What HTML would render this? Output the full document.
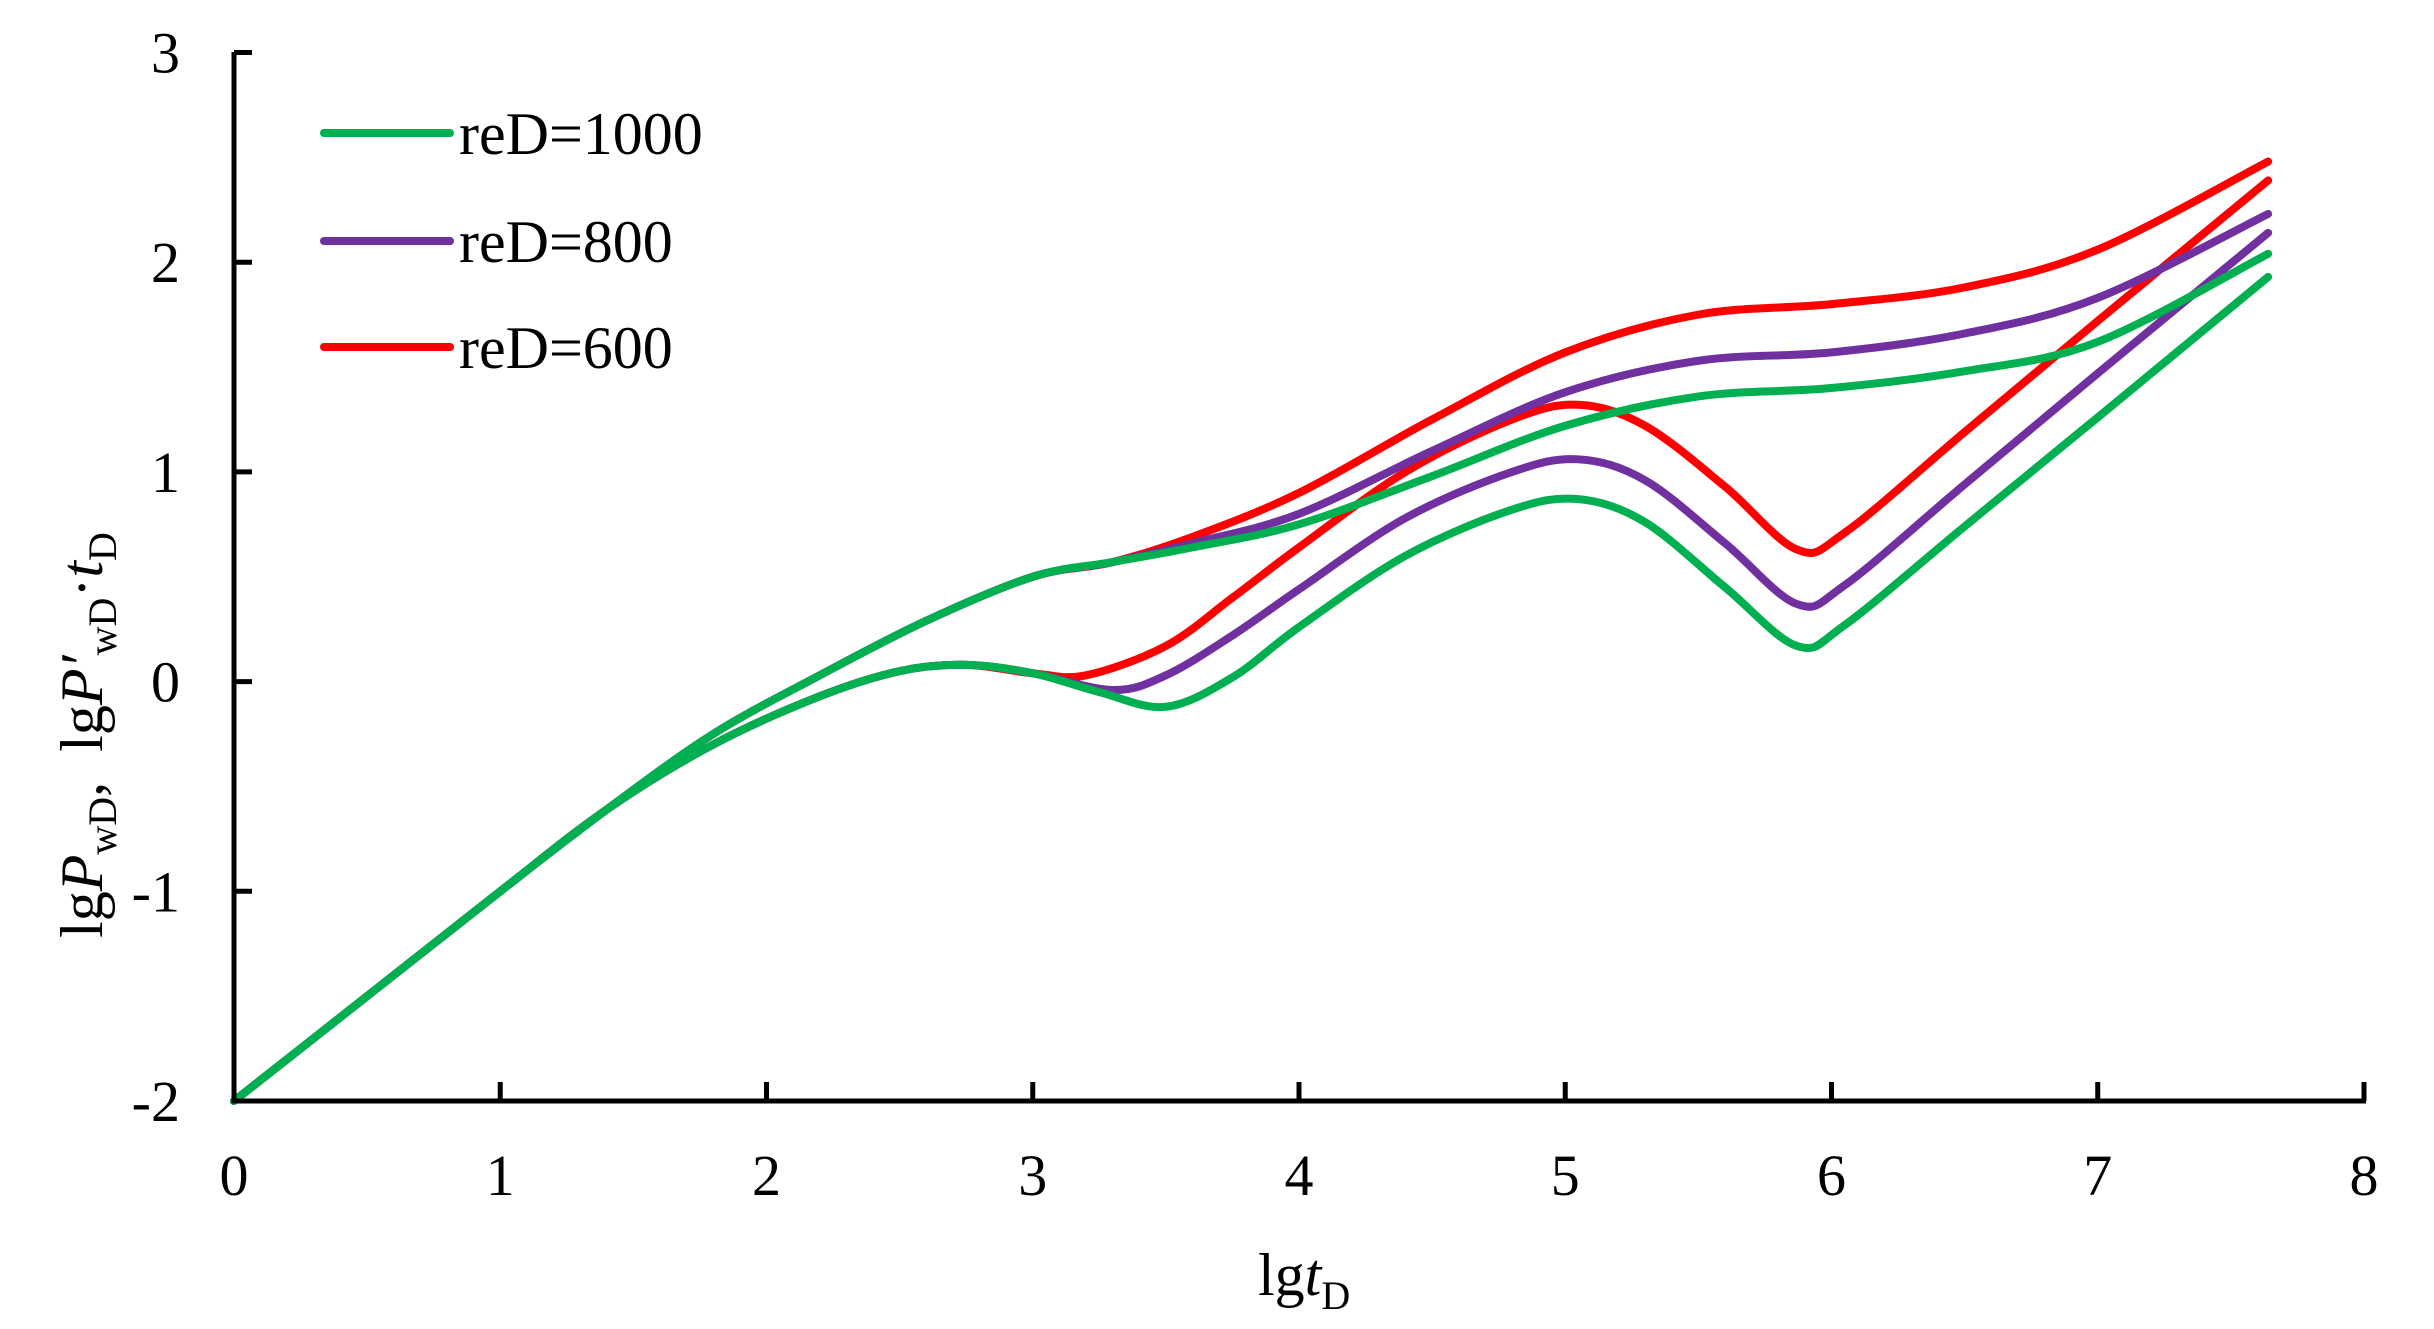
<!DOCTYPE html>
<html><head><meta charset="utf-8"><style>
html,body{margin:0;padding:0;background:#fff;}
svg{display:block;}
text{font-family:"Liberation Serif",serif;fill:#000;}
</style></head><body>
<svg id="s" width="2434" height="1329" xmlns="http://www.w3.org/2000/svg">
<g id="curves" fill="none" stroke-width="8" stroke-linecap="round" stroke-linejoin="round"></g>
<g stroke="#000" stroke-width="5" fill="none">
<path d="M234,52 V1101 H2366"/>
<path id="ticks"/>
</g>
<g font-size="58" id="labels"></g>
<g font-size="60">
<line x1="324" y1="133" x2="450" y2="133" stroke="#00b050" stroke-width="8" stroke-linecap="round"/>
<line x1="324" y1="241" x2="450" y2="241" stroke="#7030a0" stroke-width="8" stroke-linecap="round"/>
<line x1="324" y1="347" x2="450" y2="347" stroke="#ff0000" stroke-width="8" stroke-linecap="round"/>
<text x="459" y="154">reD=1000</text>
<text x="459" y="262">reD=800</text>
<text x="459" y="368">reD=600</text>
</g>
<text x="1258" y="1295" font-size="60">lg<tspan font-style="italic">t</tspan><tspan font-size="40" dy="14">D</tspan></text>
<text transform="translate(102,735) rotate(-90)" text-anchor="middle" font-size="60">lg<tspan font-style="italic">P</tspan><tspan font-size="40" dy="14">wD</tspan><tspan dy="-14">, &#160;lg</tspan><tspan font-style="italic">P′</tspan><tspan font-size="40" dy="14">wD</tspan><tspan dy="-14">·</tspan><tspan font-style="italic">t</tspan><tspan font-size="40" dy="14">D</tspan></text>
</svg>
<script>
var X=function(x){return 234+266.25*x},Y=function(v){return 681.6-209.7*v};
var t='',L=document.getElementById('labels'),h='';
for(var i=0;i<=8;i++){t+='M'+X(i)+',1101 V1082 ';h+='<text x="'+X(i)+'" y="1195" text-anchor="middle">'+i+'</text>';}
for(var v=-2;v<=3;v++){t+='M234,'+Y(v)+' H252 ';h+='<text x="180" y="'+(Y(v)+20)+'" text-anchor="end">'+v+'</text>';}
document.getElementById('ticks').setAttribute('d',t);L.innerHTML=h;
var base=[[0,-2],[0.5,-1.5],[1,-1],[1.4,-0.61]];
var D=[[1.8,-0.3],[2.2,-0.07],[2.5,0.05],[2.75,0.08],[3,0.04]];
var P=[[1.8,-0.25],[2.2,0.03],[2.6,0.29],[3,0.5],[3.3,0.57]];
var S={
gd:base.concat(D,[[3.25,-0.05],[3.5,-0.12],[3.75,0.02],[4,0.26],[4.4,0.6],[4.8,0.82],[5.05,0.87],[5.3,0.76],[5.6,0.45],[5.87,0.17],[6.05,0.27],[6.5,0.74],[7,1.26],[7.64,1.93]]),
gp:base.concat(P,[[3.6,0.64],[4,0.75],[4.5,0.98],[5,1.22],[5.5,1.36],[6,1.4],[6.5,1.48],[7,1.62],[7.64,2.04]]),
pd:base.concat(D,[[3.3,-0.04],[3.5,0.03],[3.75,0.22],[4,0.44],[4.4,0.78],[4.8,1.0],[5.05,1.06],[5.3,0.96],[5.6,0.66],[5.87,0.37],[6.05,0.46],[6.5,0.94],[7,1.47],[7.64,2.14]]),
pp:base.concat(P,[[3.6,0.66],[4,0.8],[4.5,1.1],[5,1.38],[5.5,1.53],[6,1.57],[6.5,1.66],[7,1.83],[7.64,2.23]]),
rd:base.concat(D,[[3.2,0.03],[3.5,0.17],[3.75,0.4],[4,0.64],[4.4,1.0],[4.8,1.25],[5.05,1.32],[5.3,1.22],[5.6,0.93],[5.87,0.63],[6.05,0.71],[6.5,1.19],[7,1.72],[7.64,2.39]]),
rp:base.concat(P,[[3.6,0.69],[4,0.9],[4.5,1.25],[5,1.57],[5.5,1.75],[6,1.8],[6.5,1.88],[7,2.06],[7.64,2.48]])};
function path(p){var q=p.map(function(a){return [X(a[0]),Y(a[1])]});var d='M'+q[0][0]+','+q[0][1];
for(var i=0;i<q.length-1;i++){var p0=q[Math.max(i-1,0)],p1=q[i],p2=q[i+1],p3=q[Math.min(i+2,q.length-1)];
d+=' C'+(p1[0]+(p2[0]-p0[0])/6)+','+(p1[1]+(p2[1]-p0[1])/6)+' '+(p2[0]-(p3[0]-p1[0])/6)+','+(p2[1]-(p3[1]-p1[1])/6)+' '+p2[0]+','+p2[1];}return d;}
var C={g:'#00b050',p:'#7030a0',r:'#ff0000'},o='';
['rd','rp','pd','pp','gd','gp'].forEach(function(k){o+='<path d="'+path(S[k])+'" stroke="'+C[k[0]]+'"/>';});
document.getElementById('curves').innerHTML=o;
</script>
</body></html>
